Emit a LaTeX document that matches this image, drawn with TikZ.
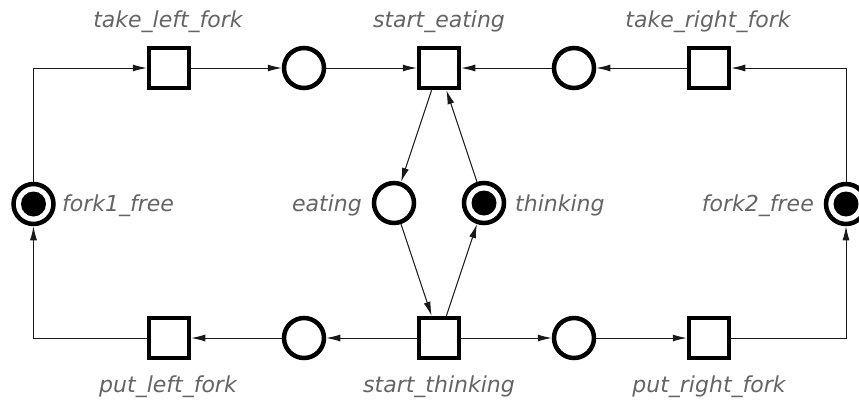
\documentclass[tikz,border=0pt]{standalone}
\usepackage{fontspec}
\setmainfont{DejaVu Sans}
\usetikzlibrary{arrows.meta}
\definecolor{labelgray}{RGB}{100,100,100}
\begin{document}
\begin{tikzpicture}[x=1pt,y=-1pt,
  place/.style={circle,draw=black,line width=4.5pt,minimum size=40pt,inner sep=0pt},
  marked/.style={place,path picture={\fill[black] (path picture bounding box.center) circle (12.5pt);}},
  transition/.style={rectangle,draw=black,line width=4.5pt,minimum size=40pt,inner sep=0pt},
  lbl/.style={text=labelgray,font=\fontsize{22}{26}\selectfont\itshape,inner sep=0pt},
  arc/.style={draw=black!90,line width=1pt,-{Latex[length=14pt,width=7pt]}}
]
\useasboundingbox (0,0) rectangle (859,399);

% transitions
\node[transition] (tlf) at (169,68) {};
\node[transition] (se)  at (439,68) {};
\node[transition] (trf) at (709,68) {};
\node[transition] (plf) at (169,338) {};
\node[transition] (st)  at (439,338) {};
\node[transition] (prf) at (709,338) {};

% places
\node[place]  (p1)    at (304,68) {};
\node[place]  (p2)    at (574,68) {};
\node[place]  (p3)    at (304,338) {};
\node[place]  (p4)    at (574,338) {};
\node[marked] (f1)    at (33.5,204) {};
\node[marked] (f2)    at (846,204) {};
\node[place]  (eat)   at (394,203) {};
\node[marked] (think) at (484,203) {};

% labels
\node[lbl,anchor=base] (ltlf) at (168,27) {take\_left\_fork};
\node[lbl,anchor=base] (lse)  at (439,27) {start\_eating};
\node[lbl,anchor=base] (ltrf) at (708,27) {take\_right\_fork};
\node[lbl,anchor=base] (lplf) at (168,392) {put\_left\_fork};
\node[lbl,anchor=base] (lst)  at (439,392) {start\_thinking};
\node[lbl,anchor=base] (lprf) at (709,392) {put\_right\_fork};
\node[lbl,anchor=base west] (lf1)    at (62,211) {fork1\_free};
\node[lbl,anchor=base east] (leat)   at (362,211) {eating};
\node[lbl,anchor=base west] (lthink) at (515,211) {thinking};
\node[lbl,anchor=base east] (lf2)    at (814,211) {fork2\_free};

% arcs
\draw[arc] (f1) |- (tlf);
\draw[arc] (tlf) -- (p1);
\draw[arc] (p1) -- (se);
\draw[arc] (f2) |- (trf);
\draw[arc] (trf) -- (p2);
\draw[arc] (p2) -- (se);
\draw[arc] (se) -- (eat);
\draw[arc] (eat) -- (st);
\draw[arc] (st) -- (think);
\draw[arc] (think) -- (se);
\draw[arc] (st) -- (p3);
\draw[arc] (p3) -- (plf);
\draw[arc] (plf) -| (f1);
\draw[arc] (st) -- (p4);
\draw[arc] (p4) -- (prf);
\draw[arc] (prf) -| (f2);
\end{tikzpicture}
\end{document}
